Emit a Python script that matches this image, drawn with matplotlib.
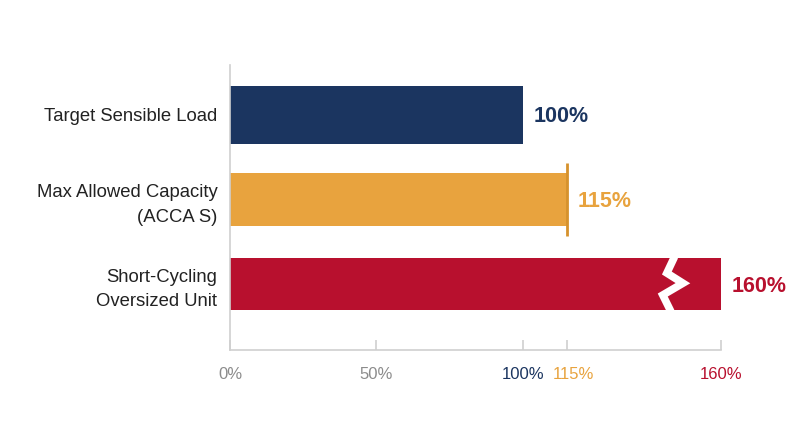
"""
Sizing bar chart: target load vs allowed capacity vs oversized unit
"""

import matplotlib.pyplot as plt
import matplotlib.transforms as mtransforms
import numpy as np

categories = ["Target Sensible Load", "Max Allowed Capacity\n(ACCA S)", "Short-Cycling\nOversized Unit"]
values = [100, 115, 160]
value_labels = ["100%", "115%", "160%"]
tick_values = [0, 50, 100, 115, 160]
tick_labels = ["0%", "50%", "100%", "115%", "160%"]

navy = "#1b3560"
orange = "#e8a33e"
crimson = "#b8102e"
grey = "#cfcfcf"
bar_colors = [navy, orange, crimson]
tick_colors = ["#8c8c8c", "#8c8c8c", navy, orange, crimson]

# axis is stretched past 115% (drawn with a break in the last bar)
knee = 115
stretch = 1.169


def fwd(v):
    v = np.asarray(v, dtype=float)
    return np.where(v <= knee, v, knee + (v - knee) * stretch)


def inv(d):
    d = np.asarray(d, dtype=float)
    return np.where(d <= knee, d, knee + (d - knee) / stretch)


plt.rcParams["font.family"] = ["Liberation Sans", "DejaVu Sans"]

fig = plt.figure(figsize=(8, 4.47), dpi=100)
ax = fig.add_axes([0.2875, 0.217, 0.6137, 0.6376])
ax.set_xscale("function", functions=(fwd, inv))

y = np.arange(len(categories))
heights = [0.69, 0.62, 0.62]
ax.barh(y, values, height=heights, color=bar_colors, zorder=2)

# marker line at the capacity limit
ax.plot([values[1], values[1]], [y[1] - 0.43, y[1] + 0.43], color="#d6922c", lw=2, zorder=3,
        solid_capstyle="butt")

# break zigzag on the oversized bar
brk = 146
zx = brk + np.array([0.5, 0.3, -1.8, 2.9, -3.0, -0.8, -1.0])
zy = y[2] + np.array([-0.36, -0.31, -0.13, -0.01, 0.13, 0.31, 0.36])
ax.plot(zx, zy, color="white", lw=5.5, solid_joinstyle="miter", solid_capstyle="butt", zorder=4)

for yi, xv, txt, c in zip(y, values, value_labels, bar_colors):
    ax.annotate(txt, (xv, yi), xytext=(7.5, -1.5), textcoords="offset points",
                va="center", ha="left", fontsize=15.5, fontweight="bold", color=c)

ax.set_xlim(0, 160)
ax.set_ylim(2.78, -0.59)

ax.set_yticks(y)
ax.set_yticklabels(categories, fontsize=13.3, color="#222222", linespacing=1.55)
ax.tick_params(axis="y", length=0, pad=9)

ax.set_xticks(tick_values)
ax.set_xticklabels(tick_labels, fontsize=12)
ax.xaxis.set_minor_locator(plt.NullLocator())
for lbl, c in zip(ax.get_xticklabels(), tick_colors):
    lbl.set_color(c)
ax.tick_params(axis="x", direction="in", length=7, width=1.2, color=grey, pad=12.5)

# nudge the 115% label right so it clears 100%
lbl115 = ax.get_xticklabels()[3]
lbl115.set_transform(lbl115.get_transform()
                     + mtransforms.ScaledTranslation(5 / 72, 0, fig.dpi_scale_trans))

for side in ["top", "right"]:
    ax.spines[side].set_visible(False)
for side in ["left", "bottom"]:
    ax.spines[side].set_color(grey)
    ax.spines[side].set_linewidth(1.2)

fig.savefig("out.png", dpi=100)
plt.close(fig)
